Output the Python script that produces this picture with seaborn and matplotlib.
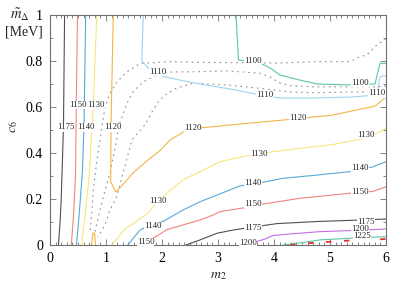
import matplotlib
matplotlib.use("Agg")
import matplotlib.pyplot as plt
from matplotlib.ticker import MultipleLocator
import seaborn as sns

# ---------------- data ----------------
# left-hand, nearly vertical contours
c1175a_x = [0.26, 0.24, 0.20, 0.18, 0.15]
c1175a_y = [1.00, 0.51, 0.20, 0.10, 0.00]
c1150a_x = [0.49, 0.47, 0.455, 0.42, 0.38]
c1150a_y = [1.00, 0.63, 0.30, 0.13, 0.00]
c1140a_x = [0.637, 0.607, 0.58, 0.527, 0.473]
c1140a_y = [1.00, 0.522, 0.326, 0.152, 0.00]
c1130a_x = [0.834, 0.773, 0.75, 0.702, 0.625, 0.566]
c1130a_y = [1.00, 0.60, 0.522, 0.304, 0.13, 0.00]
# 1120: vertical part, kink and run to the right edge
c1120_x = [1.13, 1.089, 1.084, 1.179, 1.482, 1.75, 1.964, 2.143, 2.446, 2.679,
           3.393, 4.286, 5.054, 5.804, 6.0]
c1120_y = [1.00, 0.522, 0.274, 0.230, 0.313, 0.370, 0.410, 0.457, 0.50, 0.509,
           0.526, 0.546, 0.565, 0.604, 0.643]
c1120b_x = [0.741, 0.768, 0.795, 0.813]
c1120b_y = [0.00, 0.052, 0.052, 0.00]
c1110_x = [1.666, 1.638, 1.786, 1.911, 2.018, 2.321, 2.679, 3.268, 3.75, 4.107,
           4.696, 5.357, 5.834, 5.893, 6.0]
c1110_y = [1.00, 0.801, 0.761, 0.748, 0.733, 0.717, 0.70, 0.676, 0.652, 0.639,
           0.639, 0.643, 0.652, 0.732, 0.737]
c1100_x = [3.321, 3.366, 3.518, 3.75, 3.929, 4.107, 4.411, 4.768, 5.357, 5.804,
           5.893, 6.0]
c1100_y = [1.00, 0.804, 0.80, 0.791, 0.770, 0.739, 0.72, 0.70, 0.696, 0.70,
           0.79, 0.79]
# lower right contours
c1130b_x = [1.102, 1.321, 1.488, 1.727, 1.964, 2.143, 2.375, 2.679, 3.036, 3.571,
            3.875, 4.464, 5.054, 5.536, 5.804, 6.0]
c1130b_y = [0.00, 0.065, 0.094, 0.135, 0.196, 0.237, 0.283, 0.319, 0.362, 0.391,
            0.402, 0.420, 0.437, 0.459, 0.483, 0.507]
c1140b_x = [1.388, 1.607, 1.786, 2.018, 2.375, 2.679, 2.982, 3.393, 3.75, 4.161,
            4.768, 5.357, 5.768, 6.0]
c1140b_y = [0.00, 0.065, 0.087, 0.102, 0.152, 0.188, 0.217, 0.257, 0.270, 0.290,
            0.304, 0.319, 0.340, 0.362]
c1150b_x = [1.625, 1.821, 2.089, 2.375, 2.679, 2.911, 3.036, 3.446, 3.804, 4.464,
            5.357, 5.768, 6.0]
c1150b_y = [0.00, 0.026, 0.067, 0.087, 0.109, 0.130, 0.145, 0.161, 0.178, 0.203,
            0.225, 0.233, 0.253]
c1175b_x = [2.429, 2.679, 2.982, 3.268, 3.625, 4.054, 4.768, 5.357, 6.0]
c1175b_y = [0.00, 0.022, 0.051, 0.065, 0.078, 0.093, 0.102, 0.107, 0.113]
c1200_x = [3.393, 3.661, 3.839, 3.982, 4.286, 4.821, 5.643, 6.0]
c1200_y = [0.00, 0.013, 0.026, 0.041, 0.048, 0.058, 0.065, 0.070]
c1225_x = [4.161, 4.464, 4.821, 5.411, 6.0]
c1225_y = [0.00, 0.009, 0.022, 0.030, 0.036]
c1250_x = [4.286, 4.679, 5.0, 5.321, 5.643, 6.0]
c1250_y = [0.00, 0.009, 0.014, 0.019, 0.022, 0.026]
# dotted grey curves
dot1_x = [6.0, 5.839, 5.655, 5.536, 5.357, 4.696, 4.107, 2.679, 2.143, 1.607,
          1.375, 1.196, 1.071, 0.982, 0.946, 0.893, 0.839, 0.804, 0.773, 0.745, 0.714]
dot1_y = [0.896, 0.870, 0.826, 0.819, 0.797, 0.797, 0.791, 0.794, 0.797, 0.789,
          0.753, 0.709, 0.660, 0.601, 0.543, 0.457, 0.370, 0.304, 0.239, 0.139, 0.052]
dot2_x = [6.0, 5.839, 4.696, 4.286, 4.107, 3.929, 3.75, 3.161, 2.554, 2.143,
          1.911, 1.661, 1.482, 1.375, 1.286, 1.214, 1.191, 1.071, 0.952, 0.863, 0.804]
dot2_y = [0.691, 0.688, 0.688, 0.693, 0.704, 0.730, 0.747, 0.757, 0.753, 0.752,
          0.739, 0.709, 0.665, 0.617, 0.557, 0.509, 0.457, 0.313, 0.210, 0.123, 0.057]
dot3_x = [6.0, 5.839, 4.696, 4.286, 3.75, 3.161, 2.554, 2.268, 2.054, 1.929,
          1.821, 1.696, 1.464, 1.304, 1.191, 1.071, 0.982, 0.857]
dot3_y = [0.674, 0.667, 0.662, 0.665, 0.681, 0.696, 0.703, 0.683, 0.652, 0.622,
          0.578, 0.522, 0.457, 0.313, 0.210, 0.152, 0.087, 0.035]

# contour labels
label_text = ["1175", "1150", "1130", "1140", "1120", "1110", "1120", "1100", "1100",
              "1110", "1110", "1120", "1130", "1130", "1130", "1140", "1140", "1140",
              "1150", "1150", "1150", "1175", "1175", "1200", "1200", "1225"]
label_x = [0.282, 0.500, 0.815, 0.639, 1.130, 1.920, 2.545, 3.625, 5.536,
           3.834, 5.834, 4.434, 5.637, 1.920, 3.732, 1.830, 3.625, 5.536,
           1.705, 3.625, 5.536, 3.625, 5.643, 3.536, 5.536, 5.571]
label_y = [0.511, 0.609, 0.609, 0.511, 0.511, 0.753, 0.507, 0.800, 0.703,
           0.652, 0.659, 0.554, 0.478, 0.191, 0.396, 0.083, 0.270, 0.335,
           0.012, 0.178, 0.231, 0.073, 0.101, 0.010, 0.068, 0.037]

x_ticks = [0, 1, 2, 3, 4, 5, 6]
y_ticks = [0, 0.2, 0.4, 0.6, 0.8, 1.0]
y_tick_labels = ["0", "0.2", "0.4", "0.6", "0.8", "1"]

# ---------------- styling ----------------
sns.set_theme(style="ticks")
plt.rcParams["font.family"] = ["Liberation Serif", "DejaVu Serif"]
plt.rcParams["mathtext.fontset"] = "stix"

GREY = "#505050"
RED = "#f0857c"
BLUE = "#5aa8d8"
YELLOW = "#f5e67c"
ORANGE = "#f2b548"
LBLUE = "#9fd4f2"
TEAL = "#5cc7a2"
PURPLE = "#c46fe0"
DOT = "#909090"

solid = [
    (c1175a_x, c1175a_y, GREY), (c1150a_x, c1150a_y, RED),
    (c1140a_x, c1140a_y, BLUE), (c1130a_x, c1130a_y, YELLOW),
    (c1120_x, c1120_y, ORANGE), (c1120b_x, c1120b_y, ORANGE),
    (c1110_x, c1110_y, LBLUE), (c1100_x, c1100_y, TEAL),
    (c1130b_x, c1130b_y, YELLOW), (c1140b_x, c1140b_y, BLUE),
    (c1150b_x, c1150b_y, RED), (c1175b_x, c1175b_y, GREY),
    (c1200_x, c1200_y, PURPLE), (c1225_x, c1225_y, TEAL),
]
dotted = [(dot1_x, dot1_y), (dot2_x, dot2_y), (dot3_x, dot3_y)]

fig = plt.figure(figsize=(4.07, 2.85), dpi=100)
ax = fig.add_axes([0.1229, 0.1404, 0.8255, 0.807])

for xs, ys in dotted:
    sns.lineplot(x=xs, y=ys, sort=False, estimator=None, color=DOT,
                 linewidth=0.8, linestyle=(0, (1.5, 3.5)), ax=ax)
for xs, ys, col in solid:
    sns.lineplot(x=xs, y=ys, sort=False, estimator=None, color=col,
                 linewidth=0.8, ax=ax)
sns.lineplot(x=c1250_x, y=c1250_y, sort=False, estimator=None, color="#e8302a",
             linewidth=1.3, linestyle=(0, (3, 7)), ax=ax)

for s, lx, ly in zip(label_text, label_x, label_y):
    ax.text(lx, ly, s, fontsize=6.3, ha="center", va="center", color="#222222",
            bbox=dict(facecolor="white", edgecolor="none", pad=0.1), zorder=5)

ax.set_xlim(0, 6)
ax.set_ylim(0, 1)
ax.set_xticks(x_ticks)
ax.set_xticklabels([str(t) for t in x_ticks])
ax.set_yticks(y_ticks)
ax.set_yticklabels(y_tick_labels)
ax.xaxis.set_minor_locator(MultipleLocator(0.1))
ax.yaxis.set_minor_locator(MultipleLocator(0.1))
ax.tick_params(which="both", direction="in", top=True, right=True,
               color="#707070", width=0.6, labelsize=10, labelcolor="black")
ax.tick_params(which="major", length=4, pad=5)
ax.tick_params(which="minor", length=2)
for sp in ax.spines.values():
    sp.set_color("#707070")
    sp.set_linewidth(0.8)
ax.set_xlabel("")
ax.set_ylabel("")

fig.text(218 / 407, 1 - 275 / 285, "$m_2$", ha="center", va="center", fontsize=10)
fig.text(13 / 407, 1 - 127 / 285, "$c_6$", ha="center", va="center",
         rotation=90, fontsize=10)
fig.text(10 / 407, 1 - 19 / 285, r"$\tilde{m}_{\Delta}$", ha="left",
         va="baseline", fontsize=10.5)
fig.text(5 / 407, 1 - 36 / 285, "[MeV]", ha="left", va="baseline", fontsize=10)

fig.savefig("out.png", dpi=100)
